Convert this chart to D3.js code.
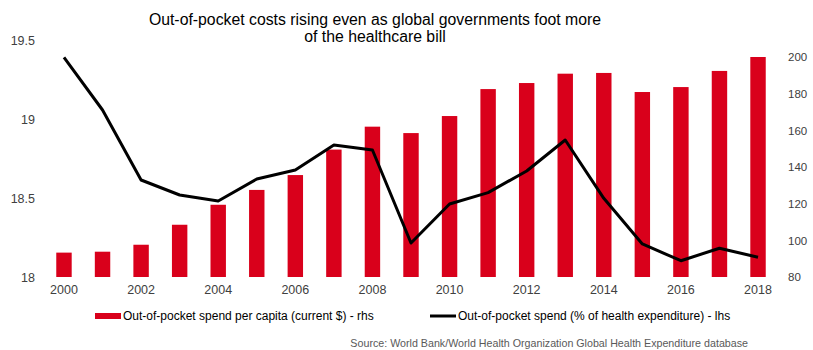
<!DOCTYPE html>
<html><head><meta charset="utf-8">
<script src="https://cdn.jsdelivr.net/npm/d3@7"></script>
<style>body{margin:0;background:#fff}svg{display:block;font-family:"Liberation Sans",Arial,sans-serif}</style>
</head><body><svg id="c" width="813" height="350"></svg>
<script>
const years = [2000,2001,2002,2003,2004,2005,2006,2007,2008,2009,2010,2011,2012,2013,2014,2015,2016,2017,2018];
const perCapita = [93.3,93.8,97.6,108.5,119.4,127.5,135.6,149.5,162,158.5,167.8,182.5,185.8,190.9,191.3,180.9,183.6,192.4,200];
const pctHealth = [19.39,19.057,18.614,18.519,18.481,18.62,18.677,18.835,18.804,18.215,18.462,18.534,18.671,18.867,18.498,18.209,18.103,18.182,18.125];
const leftTicks = [18,18.5,19,19.5];
const rightTicks = [80,100,120,140,160,180,200];
const xTickYears = [2000,2002,2004,2006,2008,2010,2012,2014,2016,2018];
const titleLines = ["Out-of-pocket costs rising even as global governments foot more","of the healthcare bill"];
const legendBar = "Out-of-pocket spend per capita (current $) - rhs";
const legendLine = "Out-of-pocket spend (% of health expenditure) - lhs";
const sourceText = "Source: World Bank/World Health Organization Global Health Expenditure database";

const svg = d3.select("#c");
const plotTop = 40, base = 277;
const x = d3.scaleBand().domain(years).range([44.7,777.3]).paddingInner(0.6).paddingOuter(0.3);
const yL = d3.scaleLinear().domain([18,19.5]).range([base,plotTop]);
const yR = d3.scaleLinear().domain([80,80+(base-plotTop)/(220/120)]).range([base,plotTop]);
const red = "#d9001b", txt = "#404040";

svg.selectAll("text.t").data(titleLines).join("text")
  .attr("x",375).attr("y",(d,i)=>25+i*16.7).attr("text-anchor","middle")
  .attr("font-size",15.8).attr("fill","#000").text(d=>d);

svg.append("g").selectAll("rect").data(years).join("rect")
  .attr("x",d=>x(d)).attr("width",x.bandwidth())
  .attr("y",(d,i)=>yR(perCapita[i])).attr("height",(d,i)=>base-yR(perCapita[i]))
  .attr("fill",red);

const line = d3.line().x((d,i)=>x(years[i])+x.bandwidth()/2).y(d=>yL(d));
svg.append("path").datum(pctHealth).attr("d",line).attr("fill","none")
  .attr("stroke","#000").attr("stroke-width",3).attr("stroke-linejoin","round");

const axL = d3.axisLeft(yL).tickValues(leftTicks).tickSize(0).tickPadding(0).tickFormat(d=>d);
const gL = svg.append("g").attr("transform","translate(35,0)").call(axL);
const axR = d3.axisRight(yR).tickValues(rightTicks).tickSize(0).tickPadding(0);
const gR = svg.append("g").attr("transform","translate(788,0)").call(axR);
const axB = d3.axisBottom(x).tickValues(xTickYears).tickSize(0).tickPadding(0);
const gB = svg.append("g").attr("transform",`translate(0,${base+8})`).call(axB);
[gL,gR,gB].forEach(g=>{g.select(".domain").remove();
  g.selectAll("text").attr("font-size",12.5).attr("fill",txt).attr("font-family","Liberation Sans, Arial, sans-serif");});
gR.selectAll("text").attr("font-size",11.5);

svg.append("rect").attr("x",95).attr("y",313).attr("width",26).attr("height",6).attr("fill",red);
svg.append("text").attr("x",123).attr("y",320).attr("font-size",12).attr("fill","#000").text(legendBar);
svg.append("line").attr("x1",430).attr("x2",456).attr("y1",316).attr("y2",316).attr("stroke","#000").attr("stroke-width",3);
svg.append("text").attr("x",458).attr("y",320).attr("font-size",12).attr("fill","#000").text(legendLine);
svg.append("text").attr("x",748).attr("y",346.5).attr("text-anchor","end").attr("font-size",10.7).attr("fill","#595959").text(sourceText);
</script></body></html>
